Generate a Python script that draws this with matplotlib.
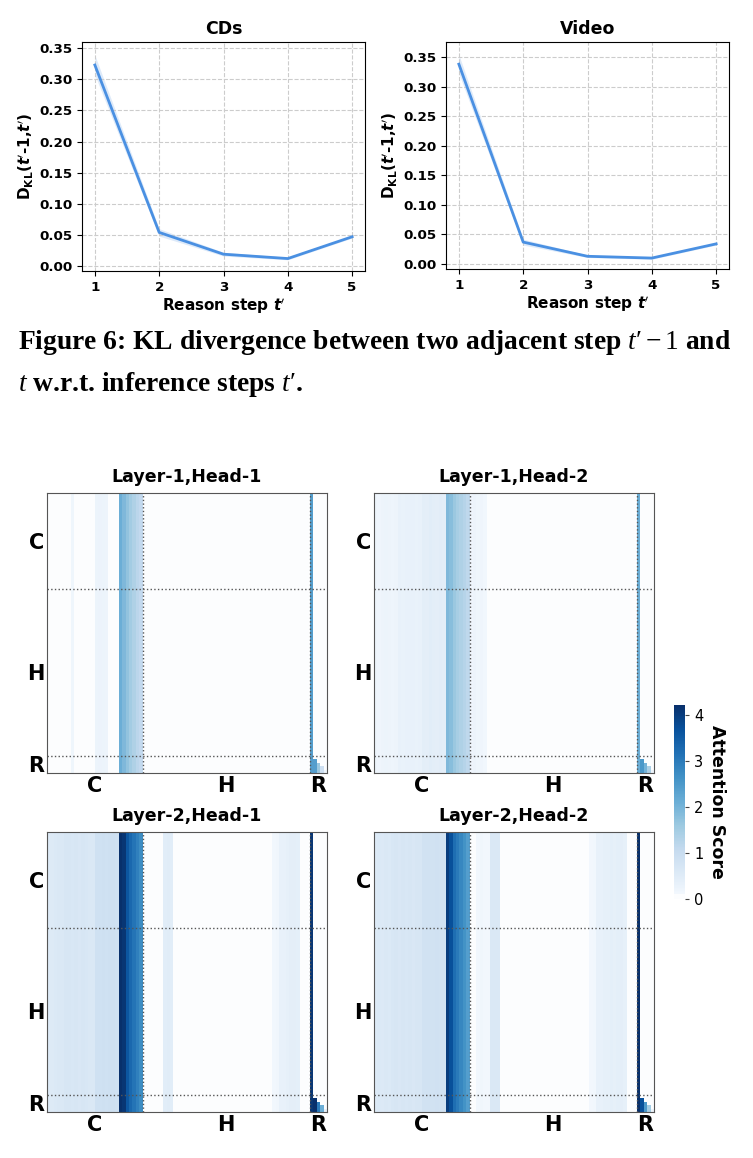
# KL divergence across reasoning steps + attention maps of the first two layers
import numpy as np
import matplotlib.pyplot as plt
from matplotlib.colors import ListedColormap

plt.rcParams['mathtext.rm'] = 'Liberation Serif'
plt.rcParams['mathtext.it'] = 'Liberation Serif:italic'
plt.rcParams['mathtext.bf'] = 'Liberation Serif:bold'

# %% data
steps = [1, 2, 3, 4, 5]
kl_cds = [0.323, 0.054, 0.019, 0.012, 0.047]
kl_cds_err = [0.016, 0.006, 0.003, 0.002, 0.002]
kl_video = [0.338, 0.037, 0.013, 0.010, 0.034]
kl_video_err = [0.016, 0.005, 0.002, 0.002, 0.002]

# attention per key column: context (28), history (49), reasoning (first column + 4 causal ones)
l1h1_ctx = [0.05, 0.05, 0.04, 0.05, 0.06, 0.05, 0.06, 0.15, 0.05, 0.04, 0.05, 0.05, 0.06, 0.07,
            0.22, 0.24, 0.22, 0.20, 0.06, 0.05, 0.05, 2.1, 1.9, 1.7, 1.5, 1.35, 1.2, 1.1]
l1h1_hist = [0.0, 0.0, 0.0, 0.0, 0.0, 0.0, 0.0, 0.0, 0.0, 0.0, 0.0, 0.0, 0.0, 0.0,
             0.0, 0.0, 0.0, 0.0, 0.0, 0.0, 0.0, 0.0, 0.0, 0.0, 0.0, 0.0, 0.0, 0.0,
             0.0, 0.0, 0.0, 0.0, 0.0, 0.0, 0.0, 0.0, 0.0, 0.0, 0.0, 0.0, 0.0, 0.0,
             0.0, 0.0, 0.0, 0.0, 0.0, 0.0, 0.0]
l1h1_reason = [2.4, 2.4, 1.6, 0.9, 0.2]

l1h2_ctx = [0.20, 0.18, 0.20, 0.22, 0.20, 0.19, 0.20, 0.30, 0.28, 0.30, 0.32, 0.30, 0.28, 0.30,
            0.42, 0.40, 0.45, 0.42, 0.40, 0.44, 0.42, 1.9, 1.8, 1.6, 1.45, 1.35, 1.25, 1.15]
l1h2_hist = [0.18, 0.20, 0.15, 0.18, 0.12, 0.06, 0.08, 0.05, 0.0, 0.0, 0.0, 0.0, 0.0, 0.0,
             0.0, 0.0, 0.0, 0.0, 0.0, 0.0, 0.0, 0.0, 0.0, 0.0, 0.0, 0.0, 0.0, 0.0,
             0.0, 0.0, 0.0, 0.0, 0.0, 0.0, 0.0, 0.0, 0.0, 0.0, 0.0, 0.0, 0.0, 0.0,
             0.0, 0.0, 0.0, 0.0, 0.0, 0.0, 0.0]
l1h2_reason = [2.1, 2.5, 2.0, 1.4, 0.2]

l2h1_ctx = [0.55, 0.55, 0.58, 0.62, 0.62, 0.68, 0.68, 0.65, 0.66, 0.64, 0.66, 0.65, 0.62, 0.60,
            0.85, 0.84, 0.86, 0.85, 0.88, 0.86, 0.85, 4.2, 4.1, 3.6, 3.3, 3.1, 2.9, 2.7]
l2h1_hist = [0.0, 0.0, 0.0, 0.0, 0.0, 0.0, 0.45, 0.48, 0.45, 0.0, 0.0, 0.0, 0.0, 0.0,
             0.0, 0.0, 0.0, 0.0, 0.0, 0.0, 0.0, 0.0, 0.0, 0.0, 0.0, 0.0, 0.0, 0.0,
             0.0, 0.0, 0.0, 0.0, 0.0, 0.0, 0.0, 0.0, 0.0, 0.0, 0.12, 0.14, 0.30, 0.32,
             0.35, 0.40, 0.40, 0.38, 0.0, 0.0, 0.0]
l2h1_reason = [4.1, 4.2, 3.0, 2.1, 0.3]

l2h2_ctx = [0.55, 0.58, 0.56, 0.60, 0.58, 0.65, 0.66, 0.64, 0.68, 0.65, 0.66, 0.64, 0.67, 0.66,
            0.80, 0.82, 0.80, 0.80, 0.83, 0.82, 0.80, 4.0, 3.7, 3.2, 3.0, 2.8, 2.6, 2.4]
l2h2_hist = [0.05, 0.05, 0.12, 0.14, 0.10, 0.10, 0.60, 0.62, 0.60, 0.0, 0.0, 0.0, 0.0, 0.0,
             0.0, 0.0, 0.0, 0.0, 0.0, 0.0, 0.0, 0.0, 0.0, 0.0, 0.0, 0.0, 0.0, 0.0,
             0.0, 0.0, 0.0, 0.0, 0.0, 0.0, 0.0, 0.10, 0.12, 0.30, 0.32, 0.35, 0.35, 0.38,
             0.36, 0.38, 0.40, 0.36, 0.0, 0.0, 0.0]
l2h2_reason = [4.2, 3.7, 2.5, 1.5, 0.2]

heads = [('Layer-1,Head-1', l1h1_ctx, l1h1_hist, l1h1_reason),
         ('Layer-1,Head-2', l1h2_ctx, l1h2_hist, l1h2_reason),
         ('Layer-2,Head-1', l2h1_ctx, l2h1_hist, l2h1_reason),
         ('Layer-2,Head-2', l2h2_ctx, l2h2_hist, l2h2_reason)]
region_labels = ['C', 'H', 'R']
vmax = 4.21

W, H = 753, 1158


def px_axes(fig, left, top, w, h):
    return fig.add_axes([left / W, 1 - (top + h) / H, w / W, h / H])


def attn_matrix(ctx, hist, reason):
    cols = np.array(ctx + hist + reason[:1] + [0.0] * (len(reason) - 1))
    n = len(cols)
    m = np.tile(cols, (n, 1))
    r0 = len(ctx) + len(hist)
    for i in range(1, len(reason)):
        m[r0 + i:, r0 + i] = reason[i]
    return m


# Blues, but with a near-white bottom like the reference
blues = plt.cm.Blues(np.linspace(0, 1, 256))
blues[:6] = plt.matplotlib.colors.to_rgba('#fcfdfe')
cmap = ListedColormap(blues)

fig = plt.figure(figsize=(W / 100, H / 100), dpi=100)

# %% KL divergence line plots
ylab = r"D$_{\mathbf{KL}}$($\mathbfit{t}'$-1,$\mathbfit{t}'$)"
xlab = r"Reason step $\mathbfit{t}'$"
line_axes = [(px_axes(fig, 82, 42, 283, 229), 'CDs', kl_cds, kl_cds_err, (-0.008, 0.36)),
             (px_axes(fig, 446, 42, 283, 227), 'Video', kl_video, kl_video_err, (-0.0085, 0.3755))]
for ax, name, vals, err, ylim in line_axes:
    v = np.array(vals)
    e = np.array(err)
    ax.plot(steps, v, color='#4a90e2', lw=2)
    ax.fill_between(steps, v - e, v + e, color='#4a90e2', alpha=0.18, lw=0)
    ax.set_ylim(*ylim)
    ax.set_xticks(steps)
    ax.set_yticks([0, 0.05, 0.10, 0.15, 0.20, 0.25, 0.30, 0.35])
    ax.yaxis.set_major_formatter(plt.FormatStrFormatter('%.2f'))
    ax.grid(True, ls='--', color='#cccccc', lw=0.8)
    ax.set_title(name, fontsize=12.5, fontweight='bold')
    ax.set_xlabel(xlab, fontsize=11, fontweight='bold', labelpad=2, math_fontfamily='dejavusans')
    ax.set_ylabel(ylab, fontsize=11, fontweight='bold', labelpad=2, math_fontfamily='dejavusans')
    ax.tick_params(labelsize=9.7)
    for lab in ax.get_xticklabels() + ax.get_yticklabels():
        lab.set_fontweight('bold')

# %% caption
cap_font = dict(family='Liberation Serif', fontweight='bold', fontsize=19.8, math_fontfamily='custom')
fig.text(18 / W, 1 - 349 / H, "Figure 6: KL divergence between two adjacent step $t′ - 1$ and", **cap_font)
fig.text(18 / W, 1 - 391 / H, "$t$ w.r.t. inference steps $t′$.", **cap_font)

# %% attention heatmaps
pos = [(47, 493), (374, 493), (47, 832), (374, 832)]
for (left, top), (title, ctx, hist, reason) in zip(pos, heads):
    ax = px_axes(fig, left, top, 280, 280)
    m = attn_matrix(ctx, hist, reason)
    im = ax.imshow(m, cmap=cmap, vmin=0, vmax=vmax, aspect='auto', interpolation='nearest')
    b1 = len(ctx) - 0.5
    b2 = len(ctx) + len(hist) - 0.5
    for b in (b1, b2):
        ax.axvline(b, color='#555555', ls=':', lw=1)
        ax.axhline(b, color='#555555', ls=':', lw=1)
    centers = [(b1 - 0.5) / 2, (b1 + b2) / 2, (b2 + m.shape[0] - 0.5) / 2]
    ax.set_xticks(centers)
    ax.set_yticks(centers)
    ax.set_xticklabels(region_labels, fontsize=15, fontweight='bold')
    ax.set_yticklabels(region_labels, fontsize=15, fontweight='bold', rotation=0)
    ax.tick_params(length=0, pad=2)
    for s in ax.spines.values():
        s.set_color('#555555')
    ax.set_title(title, fontsize=12.5, fontweight='bold', pad=8)

cax = px_axes(fig, 674, 705, 11, 194)
cb = fig.colorbar(im, cax=cax, ticks=[0, 1, 2, 3, 4])
cb.outline.set_visible(False)
cax.tick_params(labelsize=10.5, length=3, color='#444444')
cb.set_label('Attention Score', rotation=270, fontsize=12.5, fontweight='bold', labelpad=16)

fig.savefig('out.png', dpi=100)
